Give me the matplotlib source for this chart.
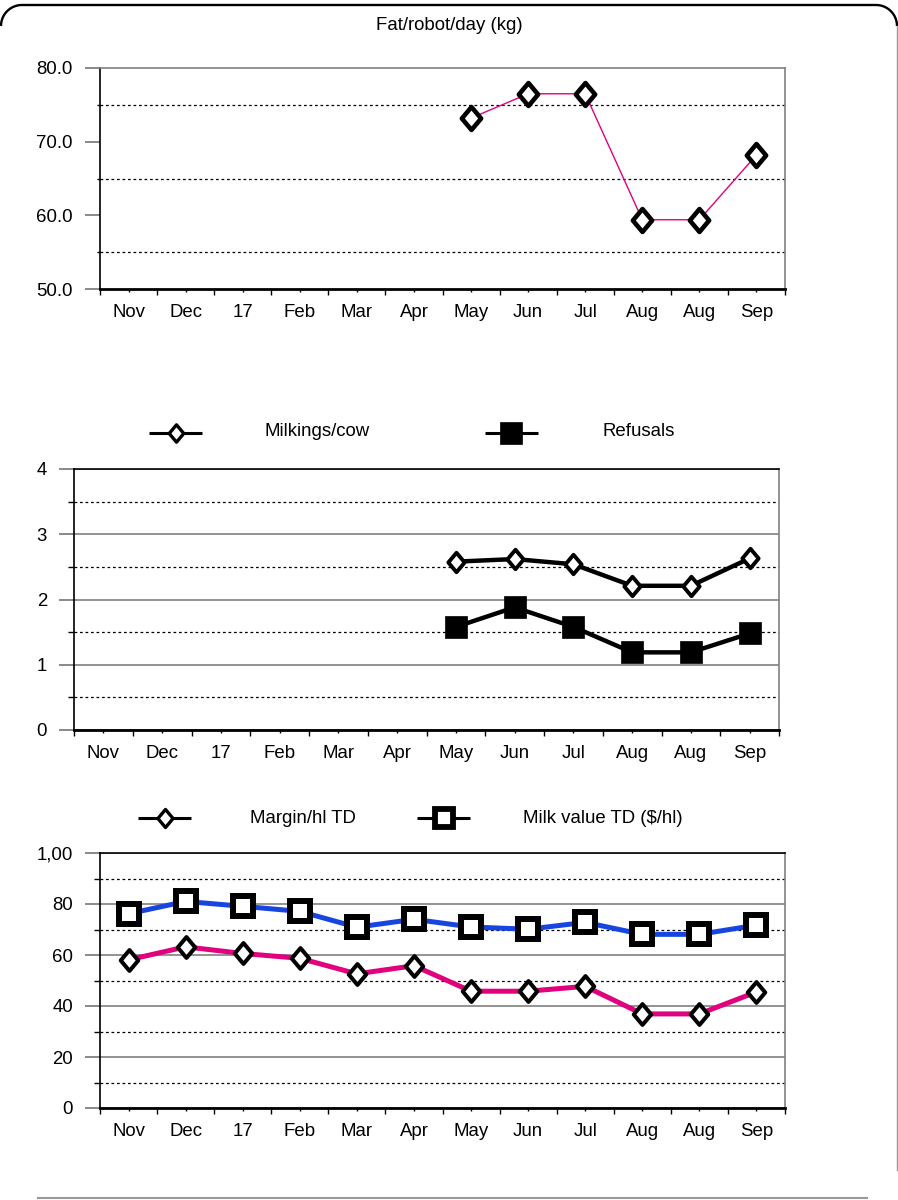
import numpy as np
import matplotlib
matplotlib.use('Agg')
import matplotlib.pyplot as plt
from matplotlib.path import Path

W, H = 898, 1200
plt.rcParams['font.family'] = ['Liberation Sans', 'DejaVu Sans']
plt.rcParams['font.size'] = 13.4

nan = np.nan
months = ['Nov', 'Dec', '17', 'Feb', 'Mar', 'Apr', 'May', 'Jun', 'Jul', 'Aug', 'Aug', 'Sep']

# panel 1
fat_robot_day = [nan, nan, nan, nan, nan, nan, 73.2, 76.5, 76.5, 59.4, 59.4, 68.2]
fat_ticks = [50, 60, 70, 80]
fat_labels = ['50.0', '60.0', '70.0', '80.0']
fat_minor = [55, 65, 75]

# panel 2
milkings_cow = [nan, nan, nan, nan, nan, nan, 2.58, 2.62, 2.54, 2.21, 2.21, 2.63]
refusals = [nan, nan, nan, nan, nan, nan, 1.58, 1.88, 1.58, 1.19, 1.19, 1.48]
milk_ticks = [0, 1, 2, 3, 4]
milk_labels = ['0', '1', '2', '3', '4']
milk_minor = [0.5, 1.5, 2.5, 3.5]

# panel 3
margin_hl = [58.1, 63.2, 60.6, 58.7, 52.6, 55.8, 45.8, 45.8, 47.7, 36.9, 36.9, 45.5]
milk_value = [76.2, 81.0, 79.1, 77.1, 70.9, 74.0, 71.0, 70.1, 72.8, 68.1, 68.1, 71.7]
value_ticks = [0, 20, 40, 60, 80, 100]
value_labels = ['0', '20', '40', '60', '80', '1,00']
value_minor = [10, 30, 50, 70, 90]

GREY = '#808080'
PINK = '#e1007d'
BLUE = '#1745e0'
DOTS = (0, (2.2, 2.2))

# slightly tall diamond used by all the diamond series
diamond = Path([(0, 1), (0.84, 0), (0, -1), (-0.84, 0), (0, 1)], closed=True)

fig = plt.figure(figsize=(W / 100, H / 100), dpi=100)

# page decoration in pixel coords
bg = fig.add_axes([0, 0, 1, 1], zorder=-1)
bg.set_xlim(0, W)
bg.set_ylim(H, 0)
bg.axis('off')
r = 21
t1 = np.linspace(np.pi, 1.5 * np.pi, 30)
t2 = np.linspace(1.5 * np.pi, 2 * np.pi, 30)
fx = np.concatenate([22 + r * np.cos(t1), 876 + r * np.cos(t2)])
fy = np.concatenate([26 + r * np.sin(t1), 26 + r * np.sin(t2)])
bg.plot(fx, fy, color='black', lw=1.7, solid_capstyle='butt')
bg.plot([897, 897], [26, 1170], color='#999999', lw=1.0)
bg.plot([38, 867], [1198, 1198], color='#999999', lw=1.5)

bg.text(449, 30, 'Fat/robot/day (kg)', ha='center', va='baseline')


def make_axes(left, top, right, bottom):
    return fig.add_axes([left / W, 1 - bottom / H, (right - left) / W, (bottom - top) / H])


def style_axes(ax, ylim, ticks, labels, minor, major_grid=True, top_color='black'):
    ax.set_xlim(-0.5, 11.5)
    ax.set_ylim(*ylim)
    ax.set_xticks(range(12), months)
    ax.set_xticks(np.arange(-0.5, 12), minor=True)
    ax.tick_params(axis='x', which='major', length=2.2, width=1, pad=8.5, color='black')
    ax.tick_params(axis='x', which='minor', length=4, width=1, color='black')
    ax.set_yticks(ticks, labels)
    ax.set_yticks(minor, minor=True)
    ax.tick_params(axis='y', which='major', length=10.5, width=1.3, pad=9, color=GREY)
    ax.tick_params(axis='y', which='minor', length=4.5, width=1, color='black')
    if major_grid:
        ax.grid(axis='y', which='major', color=GREY, lw=1.2)
    ax.grid(axis='y', which='minor', color='black', lw=0.9, linestyle=DOTS)
    ax.spines['left'].set_color('black')
    ax.spines['left'].set_linewidth(1.2)
    ax.spines['bottom'].set_color('black')
    ax.spines['bottom'].set_linewidth(2.0)
    ax.spines['top'].set_color(top_color)
    ax.spines['top'].set_linewidth(1.2)
    ax.spines['right'].set_color(GREY)
    ax.spines['right'].set_linewidth(1.2)


x = np.arange(12)

# ---- Fat/robot/day
ax1 = make_axes(100, 68, 785, 289)
style_axes(ax1, (50, 80), fat_ticks, fat_labels, fat_minor, major_grid=False, top_color=GREY)
ax1.tick_params(axis='y', which='minor', length=2)
ax1.plot(x, fat_robot_day, color=PINK, lw=1.0, marker=diamond, ms=16.5, mew=3.3,
         mfc='white', mec='black', zorder=3)

# ---- Milkings/cow and refusals
ax2 = make_axes(74, 469, 779, 730)
style_axes(ax2, (0, 4), milk_ticks, milk_labels, milk_minor)
ax2.plot(x, milkings_cow, color='black', lw=3.2, marker=diamond, ms=14, mew=2.8,
         mfc='white', mec='black', zorder=3)
ax2.plot(x, refusals, color='black', lw=3.2, marker='s', ms=16.5, mew=0.5,
         mfc='black', mec='black', zorder=3)

# ---- Margin and milk value
ax3 = make_axes(100, 853, 785, 1108)
style_axes(ax3, (0, 100), value_ticks, value_labels, value_minor)
ax3.plot(x, milk_value, color=BLUE, lw=3.6, marker='s', ms=14, mew=4.3,
         mfc='white', mec='black', zorder=3)
ax3.plot(x, margin_hl, color=PINK, lw=3.6, marker=diamond, ms=15, mew=2.9,
         mfc='white', mec='black', zorder=3)


# legends drawn on the page layer
def legend_item(x0, x1, xm, y, ty, tx, text, **mk):
    bg.plot([x0, x1], [y, y], color='black', lw=2.2, solid_capstyle='butt')
    bg.plot([xm], [y], linestyle='none', **mk)
    bg.text(tx, ty, text, ha='left', va='baseline')


legend_item(149, 202, 175.5, 432.5, 436, 265, 'Milkings/cow',
            marker=diamond, ms=12.5, mew=2.4, mfc='white', mec='black')
legend_item(485, 538, 511, 432.5, 436, 602, 'Refusals',
            marker='s', ms=16.5, mew=0.5, mfc='black', mec='black')
legend_item(138, 191, 164.5, 817.5, 823, 250, 'Margin/hl TD',
            marker=diamond, ms=13, mew=2.4, mfc='white', mec='black')
legend_item(417, 470, 443.5, 817.5, 823, 523, 'Milk value TD ($/hl)',
            marker='s', ms=13, mew=4.2, mfc='white', mec='black')

fig.savefig('out.png', dpi=100)
